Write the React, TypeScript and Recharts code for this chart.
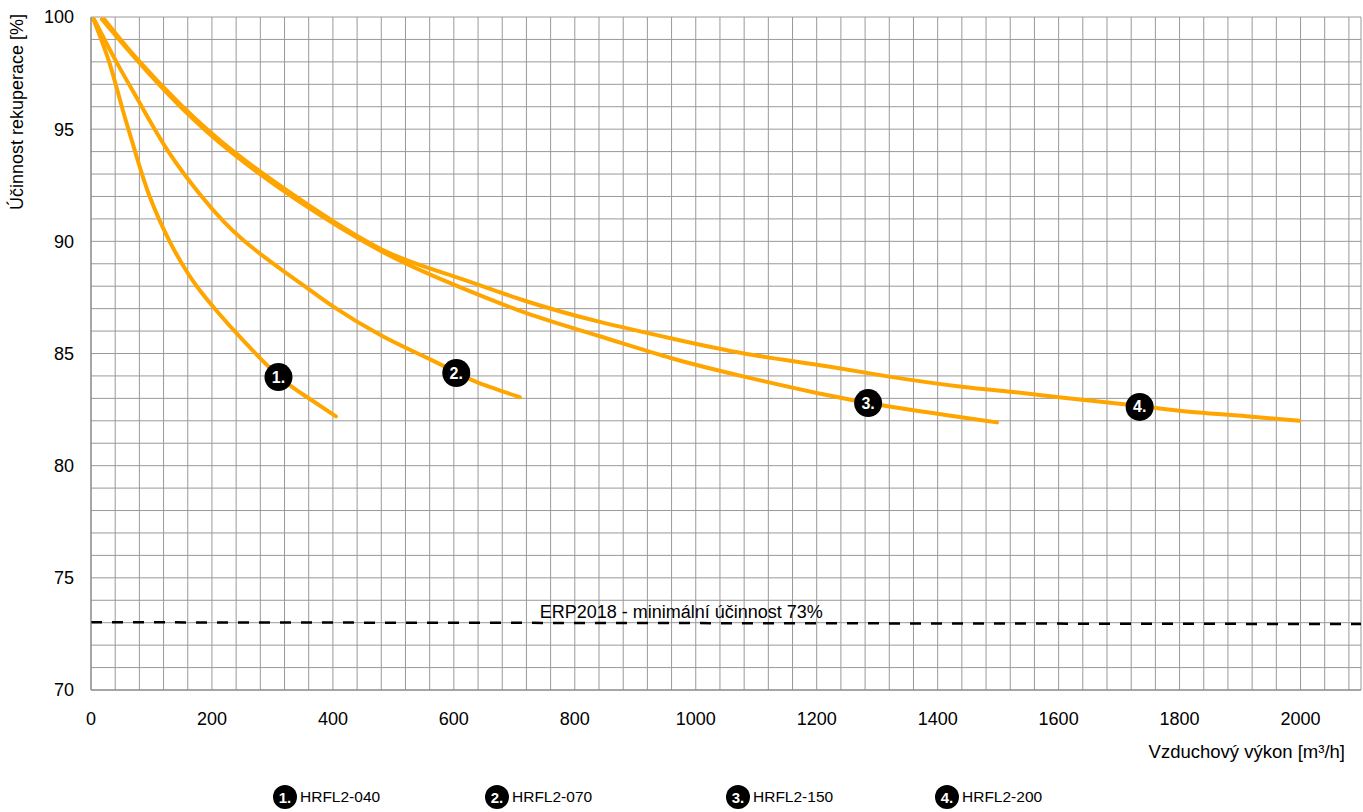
import { LineChart, Line, XAxis, YAxis, CartesianGrid, ReferenceDot, Label } from 'recharts';

// Vzduchový výkon [m³/h] / účinnost [%]
const hrfl040X = [4, 30, 51, 73, 97, 130, 155, 177, 210, 252, 310, 357, 405];
const hrfl040Y = [99.9, 98, 96, 94, 92, 90, 88.8, 87.92, 86.83, 85.57, 84.0, 83.06, 82.2];

const hrfl070X = [5, 42, 84, 128, 183, 254, 348, 400, 480, 560, 604, 640, 709];
const hrfl070Y = [99.9, 98, 96, 94, 92, 90, 88.1, 87.1, 85.8, 84.75, 84.15, 83.7, 83.05];

const hrfl150X = [18, 72, 148, 233, 340, 480, 600, 720, 840, 960, 1080, 1200, 1320, 1498];
const hrfl150Y = [99.9, 98.2, 96.0, 93.95, 91.85, 89.56, 88.07, 86.8, 85.78, 84.79, 83.97, 83.24, 82.64, 81.93];

const hrfl200X = [22, 74, 150, 236, 344, 480, 600, 720, 840, 960, 1080, 1200, 1320, 1440, 1520, 1600, 1720, 1800, 1920, 1998];
const hrfl200Y = [99.9, 98.2, 96.05, 94.0, 91.9, 89.65, 88.44, 87.33, 86.42, 85.67, 85.0, 84.5, 83.97, 83.52, 83.3, 83.05, 82.7, 82.45, 82.18, 82.0];

const erpX = [0, 2100];
const erpY = [73.02, 72.94];
const erpText = 'ERP2018 - minimální účinnost 73%';

const models = ['HRFL2-040', 'HRFL2-070', 'HRFL2-150', 'HRFL2-200'];
const badgeText = ['1.', '2.', '3.', '4.'];
const badgeX = [310, 604, 1285, 1734];
const badgeY = [83.95, 84.13, 82.79, 82.62];

const xLabels = [0, 200, 400, 600, 800, 1000, 1200, 1400, 1600, 1800, 2000];
const yLabels = [70, 75, 80, 85, 90, 95, 100];
// minor grid: every 40 m³/h and every 1 %
const xGrid = [...Array.from({ length: 53 }, (_, i) => i * 40), 2100];
const yGrid = Array.from({ length: 31 }, (_, i) => 70 + i);

const toPoints = (xs: number[], ys: number[]) => xs.map((x, i) => ({ x, y: ys[i] }));
const series = [
  toPoints(hrfl040X, hrfl040Y),
  toPoints(hrfl070X, hrfl070Y),
  toPoints(hrfl150X, hrfl150Y),
  toPoints(hrfl200X, hrfl200Y),
];

const ORANGE = '#FFA500';
const FONT = '"Liberation Sans", Arial, sans-serif';
const legendLeft = [273, 485, 726, 935];

function Badge(props: any) {
  const { cx, cy, text } = props;
  return (
    <g>
      <circle cx={cx} cy={cy} r={14} fill="#000" />
      <text x={cx} y={cy + 5.5} textAnchor="middle" fill="#fff" fontSize={16} fontWeight="bold" fontFamily={FONT}>
        {text}
      </text>
    </g>
  );
}

export default function App() {
  return (
    <div style={{ position: 'absolute', left: 0, top: 0, width: 1363, height: 812, fontFamily: FONT }}>
      <LineChart width={1363} height={812} margin={{ top: 17, right: 2, left: 0, bottom: 52 }}>
        <CartesianGrid stroke="#999" strokeWidth={1} />
        <XAxis
          type="number"
          dataKey="x"
          domain={[0, 2100]}
          ticks={xGrid}
          interval={0}
          tickLine={false}
          tickMargin={16}
          height={70}
          stroke="#808080"
          tick={{ fill: '#000', fontSize: 18, fontFamily: FONT }}
          tickFormatter={(v) => (xLabels.includes(v) ? String(v) : '')}
        >
          <Label
            content={({ viewBox }: any) => (
              <text x={viewBox.x + viewBox.width - 16} y={viewBox.y + 68} textAnchor="end" fontSize={18.5} fontFamily={FONT} fill="#000">
                Vzduchový výkon [m³/h]
              </text>
            )}
          />
        </XAxis>
        <YAxis
          type="number"
          domain={[70, 100]}
          ticks={yGrid}
          interval={0}
          tickLine={false}
          tickMargin={11}
          width={91}
          stroke="#808080"
          tick={{ fill: '#000', fontSize: 18, fontFamily: FONT }}
          tickFormatter={(v) => (yLabels.includes(v) ? String(v) : '')}
        >
          <Label
            content={() => (
              <text x={23} y={14} transform="rotate(-90 23 14)" textAnchor="end" fontSize={18} fontFamily={FONT} fill="#000">
                Účinnost rekuperace [%]
              </text>
            )}
          />
        </YAxis>

        <Line
          data={toPoints(erpX, erpY)}
          dataKey="y"
          stroke="#000"
          strokeWidth={2.5}
          strokeDasharray="11 10"
          dot={false}
          isAnimationActive={false}
        />
        {series.map((pts, i) => (
          <Line
            key={models[i]}
            data={pts}
            dataKey="y"
            name={models[i]}
            type="natural"
            stroke={ORANGE}
            strokeWidth={4}
            strokeLinecap="round"
            dot={false}
            isAnimationActive={false}
          />
        ))}

        <ReferenceDot
          x={976}
          y={73.22}
          r={0}
          shape={(p: any) => (
            <text x={p.cx} y={p.cy} textAnchor="middle" fontSize={18} fontFamily={FONT} fill="#000">
              {erpText}
            </text>
          )}
        />
        {badgeX.map((bx, i) => (
          <ReferenceDot key={i} x={bx} y={badgeY[i]} r={14} shape={(p: any) => <Badge {...p} text={badgeText[i]} />} />
        ))}
      </LineChart>

      {models.map((m, i) => (
        <div
          key={m}
          style={{ position: 'absolute', left: legendLeft[i], top: 785, height: 24, display: 'flex', alignItems: 'center' }}
        >
          <svg width={24} height={24}>
            <circle cx={12} cy={12} r={12} fill="#000" />
            <text x={12} y={17.5} textAnchor="middle" fill="#fff" fontSize={15} fontWeight="bold" fontFamily={FONT}>
              {badgeText[i]}
            </text>
          </svg>
          <span style={{ marginLeft: 3, color: '#000', fontSize: 15.5, fontFamily: FONT }}>{m}</span>
        </div>
      ))}
    </div>
  );
}
